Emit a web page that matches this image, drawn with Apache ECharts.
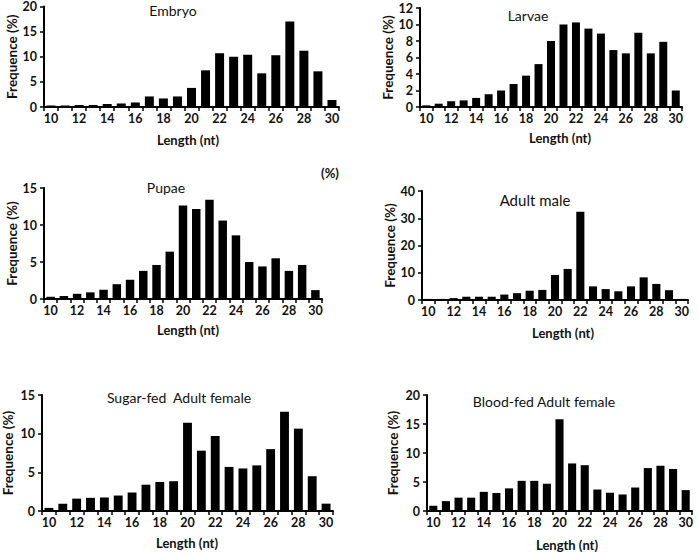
<!DOCTYPE html>
<html>
<head>
<meta charset="utf-8">
<script src="https://cdn.jsdelivr.net/npm/echarts@6/dist/echarts.min.js"></script>
<style>
  html, body { margin: 0; padding: 0; background: #ffffff; }
  #chart { width: 699px; height: 556px; }
</style>
</head>
<body>
<div id="chart"></div>
<script>
// ---- data ----
const lengths = ['10','11','12','13','14','15','16','17','18','19','20','21','22','23','24','25','26','27','28','29','30'];
const embryo    = [0.3, 0.3, 0.4, 0.4, 0.6, 0.7, 0.9, 2.1, 1.7, 2.1, 3.8, 7.3, 10.7, 10.0, 10.4, 6.7, 10.3, 17.0, 11.2, 7.1, 1.4];
const larvae    = [0.2, 0.4, 0.7, 0.8, 1.1, 1.55, 2.0, 2.8, 3.8, 5.2, 8.0, 10.0, 10.25, 9.5, 8.9, 6.9, 6.5, 9.0, 6.5, 7.9, 2.0];
const pupae     = [0.3, 0.4, 0.7, 0.9, 1.25, 2.0, 2.6, 3.8, 4.6, 6.4, 12.65, 12.15, 13.4, 10.6, 8.6, 5.0, 4.4, 5.5, 3.8, 4.6, 1.2];
const adultMale = [0.4, 0.4, 0.7, 1.2, 1.2, 1.2, 2.0, 2.5, 3.4, 3.7, 9.2, 11.4, 32.4, 5.0, 4.0, 3.2, 5.0, 8.3, 5.9, 3.6, 0.4];
const sugarFed  = [0.4, 0.95, 1.6, 1.7, 1.75, 2.0, 2.4, 3.4, 3.75, 3.85, 11.4, 7.8, 9.7, 5.7, 5.5, 5.9, 8.0, 12.85, 10.65, 4.5, 0.95];
const bloodFed  = [0.9, 1.7, 2.3, 2.3, 3.3, 3.1, 3.9, 5.2, 5.2, 4.7, 15.8, 8.2, 7.9, 3.7, 3.15, 2.85, 4.05, 7.4, 7.8, 7.25, 3.6];
const panelTitles = ['Embryo', 'Larvae', 'Pupae', 'Adult male', 'Sugar-fed  Adult female', 'Blood-fed Adult female'];
const yMax  = [20, 12, 15, 40, 15, 20];
const yStep = [5, 2, 5, 10, 5, 5];
const xTitle = 'Length (nt)';
const yTitle = 'Frequence (%)';
const strayLabel = '(%)';

// ---- layout ----
const FONT = 'Lato';
const seriesData = [embryo, larvae, pupae, adultMale, sugarFed, bloodFed];
const grids = [
  { left: 44,  top: 6,   width: 295, height: 101 },
  { left: 420, top: 8,   width: 262, height: 99 },
  { left: 44,  top: 188, width: 278, height: 111 },
  { left: 422, top: 191, width: 266, height: 109 },
  { left: 42,  top: 395, width: 291, height: 116 },
  { left: 427, top: 395, width: 265, height: 116 }
];
const yNameGap = [19, 24, 22, 22, 27, 27];
const titlePos = [[173, 10, 14], [528, 15, 14], [166, 187, 14], [535, 200, 15], [179, 397, 14], [544, 401, 14]];
const xTitlePos = [[188, 140], [560, 138], [188, 330], [563, 333], [187, 543], [567, 545]];

const axisLine = { lineStyle: { color: '#000', width: 2 } };
const option = {
  backgroundColor: '#ffffff',
  animation: false,
  grid: grids.map(g => Object.assign({ containLabel: false }, g)),
  xAxis: grids.map((g, i) => ({
    type: 'category',
    gridIndex: i,
    data: lengths,
    boundaryGap: true,
    axisLine: axisLine,
    axisTick: { show: true, interval: 0, alignWithLabel: false, length: 4, lineStyle: { color: '#000', width: 1.5 } },
    axisLabel: { interval: 1, margin: 5, color: '#111', fontFamily: FONT, fontWeight: 'bold', fontSize: 12.5 },
    splitLine: { show: false }
  })),
  yAxis: grids.map((g, i) => ({
    type: 'value',
    gridIndex: i,
    min: 0,
    max: yMax[i],
    interval: yStep[i],
    name: yTitle,
    nameLocation: 'middle',
    nameRotate: 90,
    nameGap: yNameGap[i],
    nameTextStyle: { color: '#111', fontFamily: FONT, fontWeight: 'bold', fontSize: 13.5 },
    axisLine: Object.assign({ show: true }, axisLine),
    axisTick: { show: true, length: 4, lineStyle: { color: '#000', width: 1.5 } },
    axisLabel: { margin: 7, color: '#111', fontFamily: FONT, fontWeight: 'bold', fontSize: 12.5 },
    splitLine: { show: false }
  })),
  series: seriesData.map((d, i) => ({
    type: 'bar',
    xAxisIndex: i,
    yAxisIndex: i,
    data: d,
    barCategoryGap: '36%',
    itemStyle: { color: '#000' }
  })),
  graphic: [].concat(
    panelTitles.map((t, i) => ({
      type: 'text', x: titlePos[i][0], y: titlePos[i][1],
      style: { text: t, fill: '#111', font: titlePos[i][2] + 'px ' + FONT, textAlign: 'center', textVerticalAlign: 'middle' }
    })),
    xTitlePos.map(p => ({
      type: 'text', x: p[0], y: p[1],
      style: { text: xTitle, fill: '#111', font: 'bold 13px ' + FONT, textAlign: 'center', textVerticalAlign: 'middle' }
    })),
    [{
      type: 'text', x: 330, y: 173,
      style: { text: strayLabel, fill: '#111', font: 'bold 13px ' + FONT, textAlign: 'center', textVerticalAlign: 'middle' }
    }]
  )
};

const chart = echarts.init(document.getElementById('chart'), null, { renderer: 'svg', width: 699, height: 556 });
chart.setOption(option);
</script>
</body>
</html>
